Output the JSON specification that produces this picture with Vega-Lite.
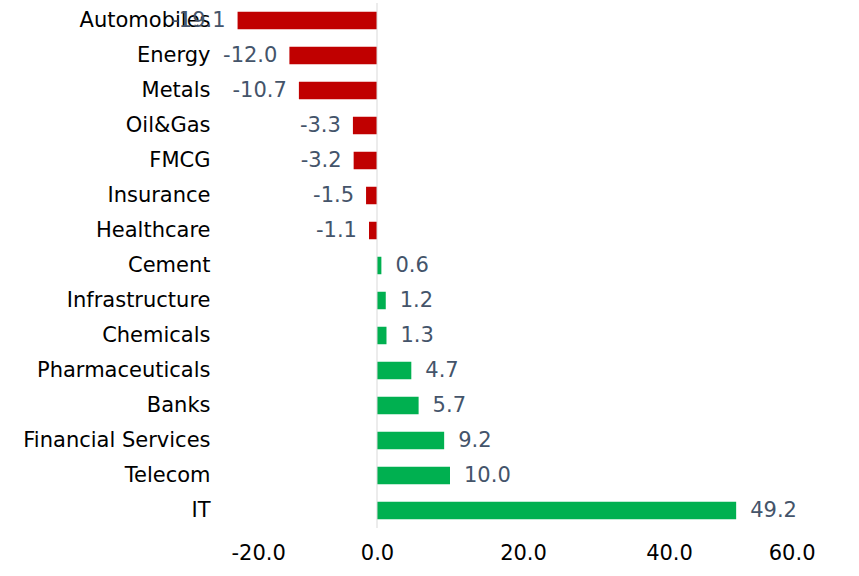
{
  "$schema": "https://vega.github.io/schema/vega-lite/v6.json",
  "width": 584,
  "height": 525,
  "autosize": {"type": "none"},
  "padding": {"left": 231, "top": 3, "right": 44, "bottom": 48},
  "background": "white",
  "config": {
    "view": {"stroke": null},
    "font": "DejaVu Sans",
    "locale": {"number": {"decimal": ".", "thousands": ",", "grouping": [3], "currency": ["$", ""], "minus": "-"}}
  },
  "data": {"values": [
    {"sector": "Automobiles", "value": -19.1},
    {"sector": "Energy", "value": -12.0},
    {"sector": "Metals", "value": -10.7},
    {"sector": "Oil&Gas", "value": -3.3},
    {"sector": "FMCG", "value": -3.2},
    {"sector": "Insurance", "value": -1.5},
    {"sector": "Healthcare", "value": -1.1},
    {"sector": "Cement", "value": 0.6},
    {"sector": "Infrastructure", "value": 1.2},
    {"sector": "Chemicals", "value": 1.3},
    {"sector": "Pharmaceuticals", "value": 4.7},
    {"sector": "Banks", "value": 5.7},
    {"sector": "Financial Services", "value": 9.2},
    {"sector": "Telecom", "value": 10.0},
    {"sector": "IT", "value": 49.2}
  ]},
  "layer": [
    {
      "mark": {"type": "bar"},
      "encoding": {
        "y": {"field": "sector", "type": "nominal", "sort": null,
          "scale": {"paddingInner": 0.5, "paddingOuter": 0.25},
          "axis": {"title": null, "ticks": false, "domain": false, "labelFontSize": 21, "labelColor": "#000000", "labelPadding": 21, "labelLimit": 400, "labelFont": "DejaVu Sans"}},
        "x": {"field": "value", "type": "quantitative",
          "scale": {"domain": [-20, 60], "nice": false, "zero": false},
          "axis": {"title": null, "values": [-20, 0, 20, 40, 60], "format": ".1f", "grid": false, "ticks": false, "domain": false, "labelFontSize": 21, "labelColor": "#000000", "labelPadding": 14, "labelFont": "DejaVu Sans"}},
        "color": {"condition": {"test": "datum.value < 0", "value": "#C00000"}, "value": "#00B050"}
      }
    },
    {
      "mark": {"type": "rule", "color": "#D9D9D9", "strokeWidth": 1},
      "data": {"values": [{"z": 0}]},
      "encoding": {"x": {"field": "z", "type": "quantitative"}}
    },
    {
      "transform": [{"filter": "datum.value < 0"}],
      "mark": {"type": "text", "align": "right", "baseline": "middle", "dx": -12, "fontSize": 21, "color": "#44546A"},
      "encoding": {
        "y": {"field": "sector", "type": "nominal", "sort": null},
        "x": {"field": "value", "type": "quantitative"},
        "text": {"field": "value", "type": "quantitative", "format": ".1f"}
      }
    },
    {
      "transform": [{"filter": "datum.value >= 0"}],
      "mark": {"type": "text", "align": "left", "baseline": "middle", "dx": 14, "fontSize": 21, "color": "#44546A"},
      "encoding": {
        "y": {"field": "sector", "type": "nominal", "sort": null},
        "x": {"field": "value", "type": "quantitative"},
        "text": {"field": "value", "type": "quantitative", "format": ".1f"}
      }
    }
  ]
}
